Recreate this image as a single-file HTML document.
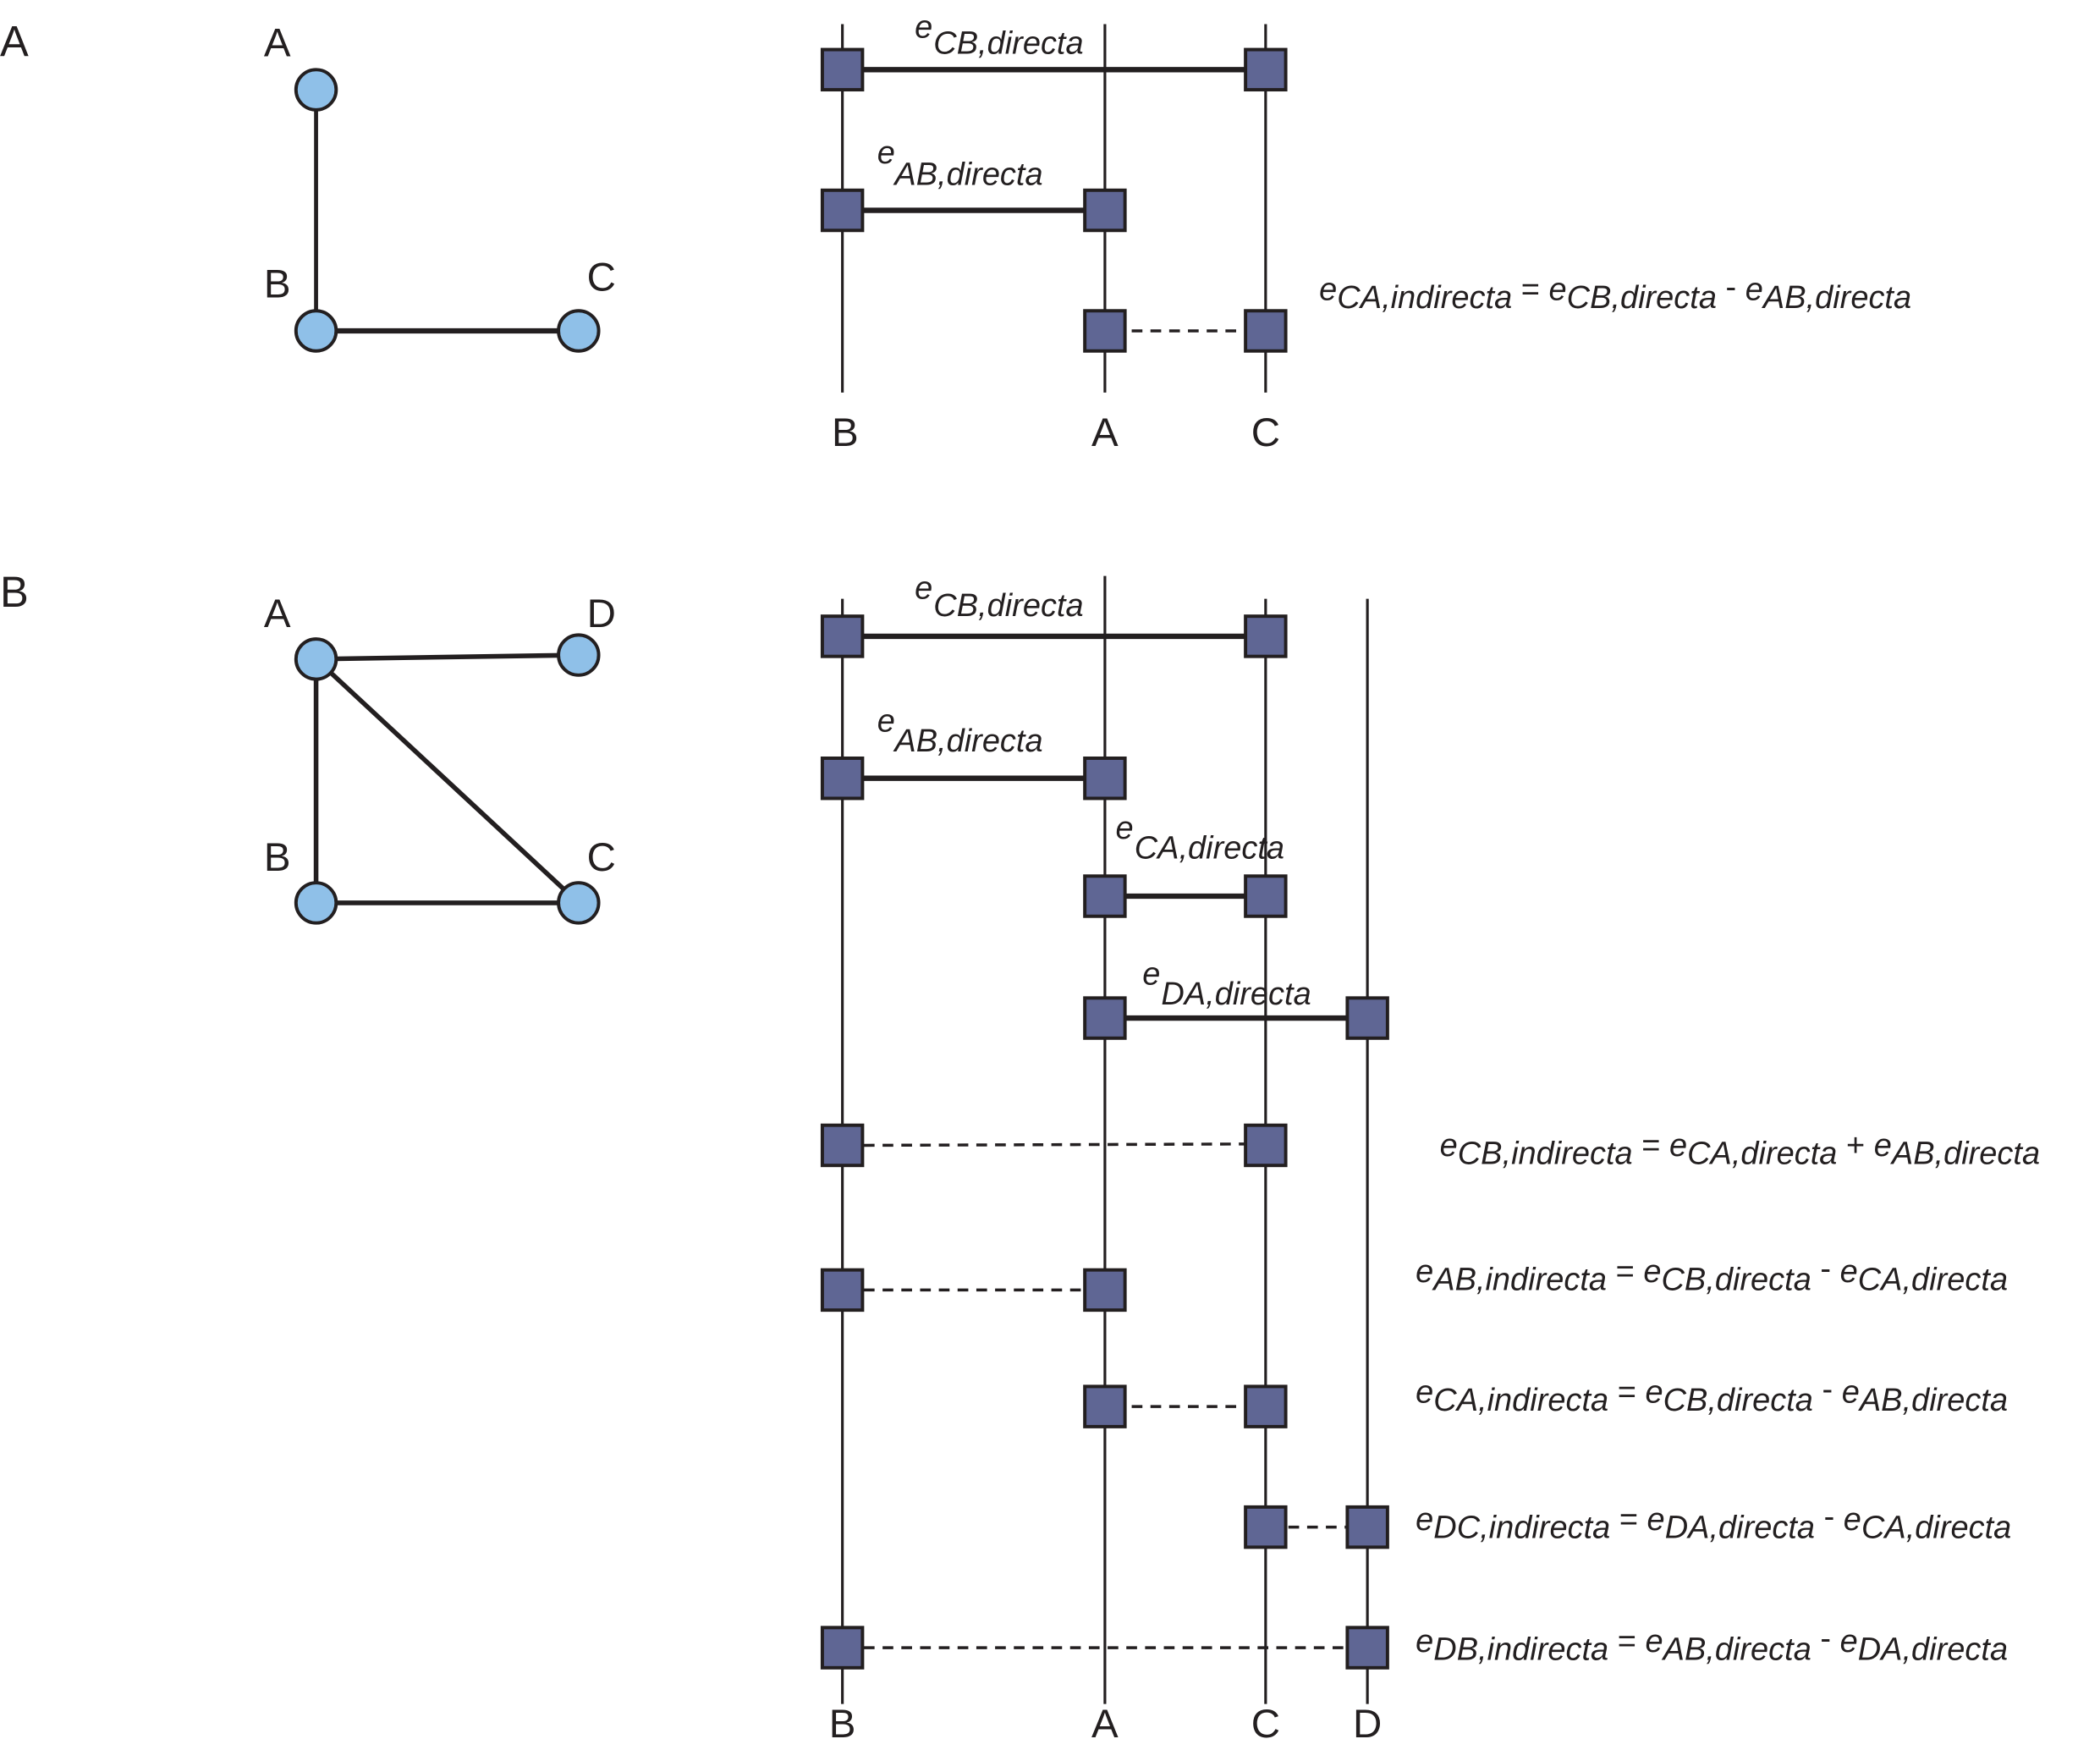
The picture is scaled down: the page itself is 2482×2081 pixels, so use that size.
<!DOCTYPE html>
<html><head><meta charset="utf-8"><style>html,body{margin:0;padding:0;background:#fff}svg{display:block}</style></head>
<body>
<svg width="2482" height="2081" viewBox="0 0 1568 1314.6" preserveAspectRatio="none" xmlns="http://www.w3.org/2000/svg" font-family="Liberation Sans, sans-serif">
<g fill="#231f20" font-size="32">
<text x="0" y="42">A</text>
<text x="0" y="453">B</text>
</g>
<!-- Panel A graph -->
<g stroke="#231f20">
<line x1="236" y1="67" x2="236" y2="247" stroke-width="3"/>
<line x1="236" y1="247" x2="432" y2="247" stroke-width="4"/>
</g>
<g fill="#8fc0e8" stroke="#231f20" stroke-width="2.5">
<circle cx="236" cy="67" r="15"/><circle cx="236" cy="247" r="15"/><circle cx="432" cy="247" r="15"/>
</g>
<g fill="#231f20" font-size="30" text-anchor="middle">
<text x="207" y="42">A</text><text x="207" y="222">B</text><text x="449" y="217">C</text>
</g>
<!-- Panel B graph -->
<g stroke="#231f20" stroke-width="3.5">
<line x1="236" y1="492" x2="432" y2="489"/>
<line x1="236" y1="492" x2="236" y2="674"/>
<line x1="236" y1="492" x2="432" y2="674"/>
<line x1="236" y1="674" x2="432" y2="674"/>
</g>
<g fill="#8fc0e8" stroke="#231f20" stroke-width="2.5">
<circle cx="236" cy="492" r="15"/><circle cx="432" cy="489" r="15"/><circle cx="236" cy="674" r="15"/><circle cx="432" cy="674" r="15"/>
</g>
<g fill="#231f20" font-size="30" text-anchor="middle">
<text x="207" y="468">A</text><text x="449" y="468">D</text><text x="207" y="650">B</text><text x="449" y="650">C</text>
</g>
<!-- Panel A timelines -->
<g stroke="#231f20" stroke-width="2">
<line x1="629" y1="18" x2="629" y2="293"/><line x1="825" y1="18" x2="825" y2="293"/><line x1="945" y1="18" x2="945" y2="293"/>
<line x1="629" y1="447" x2="629" y2="1272"/><line x1="825" y1="430" x2="825" y2="1272"/><line x1="945" y1="447" x2="945" y2="1272"/><line x1="1021" y1="447" x2="1021" y2="1272"/>
</g>
<g stroke="#231f20" stroke-width="4">
<line x1="629" y1="52" x2="945" y2="52"/>
<line x1="629" y1="157" x2="825" y2="157"/>
<line x1="629" y1="475" x2="945" y2="475"/>
<line x1="629" y1="581" x2="825" y2="581"/>
<line x1="825" y1="669" x2="945" y2="669"/>
<line x1="825" y1="760" x2="1021" y2="760"/>
</g>
<g stroke="#231f20" stroke-width="2.2" stroke-dasharray="8,6">
<line x1="845" y1="247" x2="930" y2="247"/>
<line x1="645" y1="855" x2="930" y2="854"/>
<line x1="645" y1="963" x2="810" y2="963"/>
<line x1="845" y1="1050" x2="930" y2="1050"/>
<line x1="962" y1="1140" x2="1006" y2="1140"/>
<line x1="645" y1="1230" x2="1006" y2="1230"/>
</g>
<g fill="#5f6694" stroke="#231f20" stroke-width="2.5">
<rect x="614" y="37" width="30" height="30"/><rect x="930" y="37" width="30" height="30"/>
<rect x="614" y="142" width="30" height="30"/><rect x="810" y="142" width="30" height="30"/>
<rect x="810" y="232" width="30" height="30"/><rect x="930" y="232" width="30" height="30"/>
<rect x="614" y="460" width="30" height="30"/><rect x="930" y="460" width="30" height="30"/>
<rect x="614" y="566" width="30" height="30"/><rect x="810" y="566" width="30" height="30"/>
<rect x="810" y="654" width="30" height="30"/><rect x="930" y="654" width="30" height="30"/>
<rect x="810" y="745" width="30" height="30"/><rect x="1006" y="745" width="30" height="30"/>
<rect x="614" y="840" width="30" height="30"/><rect x="930" y="840" width="30" height="30"/>
<rect x="614" y="948" width="30" height="30"/><rect x="810" y="948" width="30" height="30"/>
<rect x="810" y="1035" width="30" height="30"/><rect x="930" y="1035" width="30" height="30"/>
<rect x="930" y="1125" width="30" height="30"/><rect x="1006" y="1125" width="30" height="30"/>
<rect x="614" y="1215" width="30" height="30"/><rect x="1006" y="1215" width="30" height="30"/>
</g>
<g fill="#231f20" font-size="30" text-anchor="middle">
<text x="631" y="333">B</text><text x="825" y="333">A</text><text x="945" y="333">C</text>
<text x="629" y="1297">B</text><text x="825" y="1297">A</text><text x="945" y="1297">C</text><text x="1021" y="1297">D</text>
</g>
<g fill="#231f20" font-size="24" font-style="italic">
<text x="683" y="28">e</text><text x="697" y="40">CB,directa</text>
<text x="655" y="122">e</text><text x="668" y="138">AB,directa</text>
<text x="683" y="447">e</text><text x="697" y="460">CB,directa</text>
<text x="655" y="546">e</text><text x="668" y="561">AB,directa</text>
<text x="833" y="626">e</text><text x="847" y="641">CA,directa</text>
<text x="853" y="735">e</text><text x="867" y="750">DA,directa</text>
</g>
<g fill="#231f20" font-size="24" font-style="italic">
<text x="985" y="230"><tspan dy="-6">e</tspan><tspan dy="6">CA,indirecta</tspan><tspan dy="-6" font-style="normal"> = </tspan><tspan>e</tspan><tspan dy="6">CB,directa</tspan><tspan dy="-8" font-style="normal"> - </tspan><tspan dy="2">e</tspan><tspan dy="6">AB,directa</tspan></text>
<text x="1075" y="869"><tspan dy="-6">e</tspan><tspan dy="6">CB,indirecta</tspan><tspan dy="-6" font-style="normal"> = </tspan><tspan>e</tspan><tspan dy="6">CA,directa</tspan><tspan dy="-6" font-style="normal"> + </tspan><tspan>e</tspan><tspan dy="6">AB,directa</tspan></text>
<text x="1057" y="963"><tspan dy="-6">e</tspan><tspan dy="6">AB,indirecta</tspan><tspan dy="-6" font-style="normal"> = </tspan><tspan>e</tspan><tspan dy="6">CB,directa</tspan><tspan dy="-8" font-style="normal"> - </tspan><tspan dy="2">e</tspan><tspan dy="6">CA,directa</tspan></text>
<text x="1057" y="1053"><tspan dy="-6">e</tspan><tspan dy="6">CA,indirecta</tspan><tspan dy="-6" font-style="normal"> = </tspan><tspan>e</tspan><tspan dy="6">CB,directa</tspan><tspan dy="-8" font-style="normal"> - </tspan><tspan dy="2">e</tspan><tspan dy="6">AB,directa</tspan></text>
<text x="1057" y="1148"><tspan dy="-6">e</tspan><tspan dy="6">DC,indirecta</tspan><tspan dy="-6" font-style="normal"> = </tspan><tspan>e</tspan><tspan dy="6">DA,directa</tspan><tspan dy="-8" font-style="normal"> - </tspan><tspan dy="2">e</tspan><tspan dy="6">CA,directa</tspan></text>
<text x="1057" y="1239"><tspan dy="-6">e</tspan><tspan dy="6">DB,indirecta</tspan><tspan dy="-6" font-style="normal"> = </tspan><tspan>e</tspan><tspan dy="6">AB,directa</tspan><tspan dy="-8" font-style="normal"> - </tspan><tspan dy="2">e</tspan><tspan dy="6">DA,directa</tspan></text>
</g>
</svg>
</body></html>
